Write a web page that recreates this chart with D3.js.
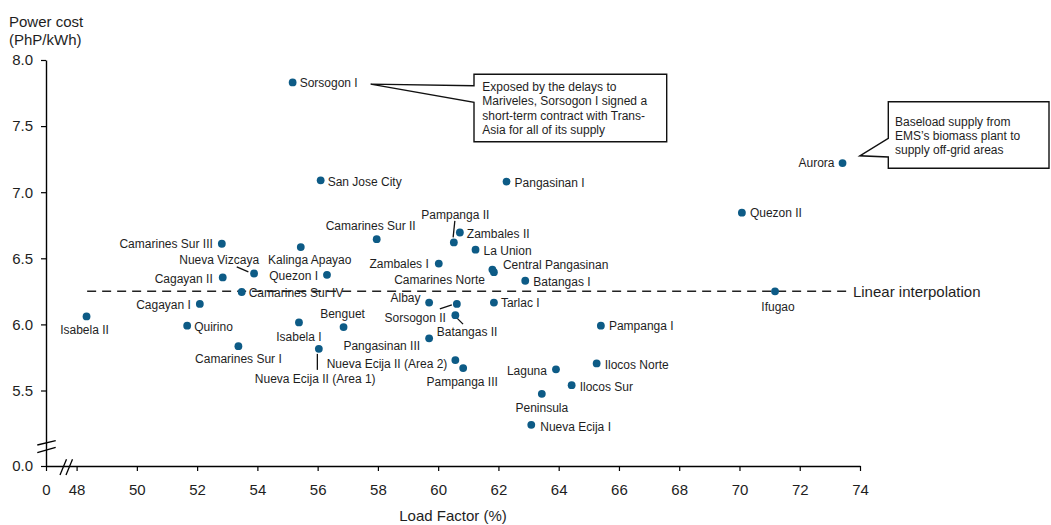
<!DOCTYPE html>
<html><head><meta charset="utf-8">
<script src="https://cdn.jsdelivr.net/npm/d3@7/dist/d3.min.js"></script>
<style>
html,body{margin:0;padding:0;background:#fff;}
svg{display:block;font-family:"Liberation Sans",Arial,Helvetica,sans-serif;}
</style></head><body>
<svg id="chart" width="1051" height="525"></svg>
<script>
// ---------------- DATA ----------------
const names = ["Sorsogon I","San Jose City","Pangasinan I","Aurora","Quezon II","Ifugao",
  "Camarines Sur III","Kalinga Apayao","Camarines Sur II","Pampanga II","Zambales II","La Union",
  "Zambales I","Central Pangasinan","Camarines Norte","Batangas I","Nueva Vizcaya","Cagayan II",
  "Quezon I","Camarines Sur IV","Cagayan I","Isabela II","Quirino","Isabela I","Benguet",
  "Camarines Sur I","Nueva Ecija II (Area 1)","Nueva Ecija II (Area 2)","Albay","Sorsogon II",
  "Batangas II","Tarlac I","Pangasinan III","Pampanga III","Laguna","Ilocos Norte","Ilocos Sur",
  "Peninsula","Nueva Ecija I","Pampanga I"];
const loadFactor = [55.17,56.10,62.27,73.42,70.08,71.18,
  52.82,55.44,57.96,60.52,60.72,61.24,
  60.02,61.85,61.80,62.89,53.89,52.85,
  56.31,53.48,52.09,48.33,51.67,55.38,56.86,
  53.37,56.04,60.57,59.70,60.62,
  60.57,61.85,59.70,60.83,63.91,65.26,64.43,
  63.44,63.09,65.40];
const powerCost = [7.83,7.09,7.08,7.22,6.845,6.25,
  6.61,6.585,6.645,6.62,6.695,6.565,
  6.46,6.395,6.415,6.33,6.385,6.355,
  6.375,6.245,6.155,6.06,5.99,6.015,5.98,
  5.835,5.815,5.73,6.165,6.155,
  6.07,6.165,5.895,5.67,5.66,5.705,5.54,
  5.475,5.24,5.99];
const xTicks = [0,48,50,52,54,56,58,60,62,64,66,68,70,72,74];
const yTicks = [0,5.5,6.0,6.5,7.0,7.5,8.0];
const interpolationCost = 6.25;
const interpolationRange = [48.35, 73.6];
const interpolationLabel = "Linear interpolation";
const xTitle = "Load Factor (%)";
const yTitle = ["Power cost", "(PhP/kWh)"];
const callout1Lines = ["Exposed by the delays to","Mariveles, Sorsogon I signed a","short-term contract with Trans-","Asia for all of its supply"];
const callout2Lines = ["Baseload supply from","EMS\u2019s biomass plant to","supply off-grid areas"];

// ---------------- LAYOUT ----------------
const labelPos = {
  "Sorsogon I":[7,0.5,"start"], "San Jose City":[7,1,"start"], "Pangasinan I":[8,1,"start"],
  "Aurora":[-8,0,"end"], "Quezon II":[8,0,"start"], "Ifugao":[3,15,"middle"],
  "Camarines Sur III":[-9,0,"end"], "Kalinga Apayao":[9,13,"middle"], "Camarines Sur II":[-6,-13,"middle"],
  "Pampanga II":[1.5,-28,"middle"], "Zambales II":[7,1,"start"], "La Union":[8,1,"start"],
  "Zambales I":[-10,0,"end"], "Central Pangasinan":[9,-7,"start"], "Camarines Norte":[-7.5,10,"end"],
  "Batangas I":[8,1,"start"], "Nueva Vizcaya":[5,-14,"end"], "Cagayan II":[-10,1,"end"],
  "Quezon I":[-9,1,"end"], "Camarines Sur IV":[7,1,"start"], "Cagayan I":[-9,1,"end"],
  "Isabela II":[-2,13.5,"middle"], "Quirino":[7,1,"start"], "Isabela I":[0,14,"middle"],
  "Benguet":[-1,-13,"middle"], "Camarines Sur I":[0,13,"middle"],
  "Nueva Ecija II (Area 1)":[-64,30,"start"], "Nueva Ecija II (Area 2)":[-8,4,"end"],
  "Albay":[-8.6,-5,"end"], "Sorsogon II":[-11,14,"end"], "Batangas II":[-18.6,17,"start"],
  "Tarlac I":[7,0,"start"], "Pangasinan III":[-9,8,"end"], "Pampanga III":[-1,14,"middle"],
  "Laguna":[-9,1,"end"], "Ilocos Norte":[8,1.5,"start"], "Ilocos Sur":[8,1.5,"start"],
  "Peninsula":[0,13.5,"middle"], "Nueva Ecija I":[9,1.5,"start"], "Pampanga I":[8,0,"start"]
};
const leaders = {
  "Pampanga II":[[1,-21.6],[-0.7,-5]],
  "Nueva Vizcaya":[[-17.3,-6.6],[-5.7,-1.6]],
  "Nueva Ecija II (Area 1)":[[-1.5,5],[-1.5,21]],
  "Sorsogon II":[[-17,5],[-5,1]],
  "Batangas II":[[1.7,3],[7.7,9]]
};

const svg = d3.select("#chart");
const dotColor = "#0d5b86";
const textColor = "#1e1e1e";

// scales
const x = d3.scaleLinear().domain([48,74]).range([76.6,860]);
const y = d3.scaleLinear().domain([5.5,8.0]).range([390.5,60]);
// broken-axis scales (for the axes with the 0 tick)
const xAxisScale = d3.scaleLinear().domain([0,48,74]).range([46,76.6,860]);
const yAxisScale = d3.scaleLinear().domain([0,5.5,8.0]).range([466,390.5,60]);

// axes
const xAxis = svg.append("g").attr("transform","translate(0,466)")
  .call(d3.axisBottom(xAxisScale).tickValues(xTicks).tickSize(5).tickSizeOuter(0).tickPadding(13).tickFormat(d3.format("d")));
const yAxis = svg.append("g").attr("transform","translate(46,0)")
  .call(d3.axisLeft(yAxisScale).tickValues(yTicks).tickSize(5).tickSizeOuter(0).tickPadding(8).tickFormat(d3.format(".1f")));
[xAxis,yAxis].forEach(a=>{
  a.selectAll("path.domain").attr("stroke","#000").attr("stroke-width",1.4);
  a.selectAll(".tick line").attr("stroke","#000").attr("stroke-width",1.2);
  a.selectAll(".tick text").attr("fill",textColor).attr("font-size",15)
   .attr("font-family",'"Liberation Sans",Arial,sans-serif');
});

// axis breaks
const brk = svg.append("g").attr("stroke","#000").attr("stroke-width",1.3);
[[37.3,445,55.7,440.7],[37.3,452.7,55.7,447.3],[60,475,66.5,459.3],[66,475,72.5,459.3]].forEach(l=>{
  brk.append("line").attr("x1",l[0]).attr("y1",l[1]).attr("x2",l[2]).attr("y2",l[3]);
});

// axis titles
svg.append("text").attr("x",9).attr("y",27).attr("font-size",15).attr("fill",textColor).text(yTitle[0]);
svg.append("text").attr("x",9).attr("y",44.5).attr("font-size",15).attr("fill",textColor).text(yTitle[1]);
svg.append("text").attr("x",453).attr("y",521).attr("text-anchor","middle").attr("font-size",15).attr("fill",textColor).text(xTitle);

// interpolation line
svg.append("line")
  .attr("x1",x(interpolationRange[0])).attr("x2",x(interpolationRange[1]))
  .attr("y1",y(interpolationCost)).attr("y2",y(interpolationCost))
  .attr("stroke","#222").attr("stroke-width",1.5).attr("stroke-dasharray","9,6");
svg.append("text").attr("x",x(interpolationRange[1])+5).attr("y",y(interpolationCost)).attr("dy","0.35em")
  .attr("font-size",15).attr("fill",textColor).text(interpolationLabel);

const data = names.map((n,i)=>({name:n, lf:loadFactor[i], pc:powerCost[i]}));

// leader lines
const ld = svg.append("g").attr("stroke","#111").attr("stroke-width",1.3);
data.forEach(d=>{
  const L = leaders[d.name]; if(!L) return;
  ld.append("line").attr("x1",x(d.lf)+L[0][0]).attr("y1",y(d.pc)+L[0][1])
    .attr("x2",x(d.lf)+L[1][0]).attr("y2",y(d.pc)+L[1][1]);
});

// points
svg.append("g").selectAll("circle").data(data).join("circle")
  .attr("cx",d=>x(d.lf)).attr("cy",d=>y(d.pc)).attr("r",3.9).attr("fill",dotColor);

// labels
svg.append("g").selectAll("text").data(data).join("text")
  .attr("x",d=>x(d.lf)+labelPos[d.name][0])
  .attr("y",d=>y(d.pc)+labelPos[d.name][1])
  .attr("dy","0.35em")
  .attr("text-anchor",d=>labelPos[d.name][2])
  .attr("font-size",12).attr("fill",textColor)
  .text(d=>d.name);

// callouts
function callout(box, tip, attach, lines, textX, firstY, lh){
  const [l,t,r,b] = box;
  const p = `M${l},${t}H${r}V${b}H${l}V${attach[1]}L${tip[0]},${tip[1]}L${l},${attach[0]}Z`;
  svg.append("path").attr("d",p).attr("fill","#fff").attr("stroke","#111").attr("stroke-width",1.4);
  const tx = svg.append("text").attr("font-size",12).attr("fill",textColor);
  lines.forEach((s,i)=>tx.append("tspan").attr("x",textX).attr("y",firstY+i*lh).attr("dy","0.35em").text(s));
}
const sIdx = names.indexOf("Sorsogon I");
const aIdx = names.indexOf("Aurora");
callout([474,74.3,666.7,141.7],[x(loadFactor[sIdx])+78, y(powerCost[sIdx])+1.7],[85.7,102.3],
  callout1Lines, 482.3, 86.7, 14.3);
callout([888.3,101.7,1049,168.3],[x(loadFactor[aIdx])+17.3, y(powerCost[aIdx])-7.3],[138.3,157],
  callout2Lines, 895, 121.7, 14.2);
</script>
</body></html>
